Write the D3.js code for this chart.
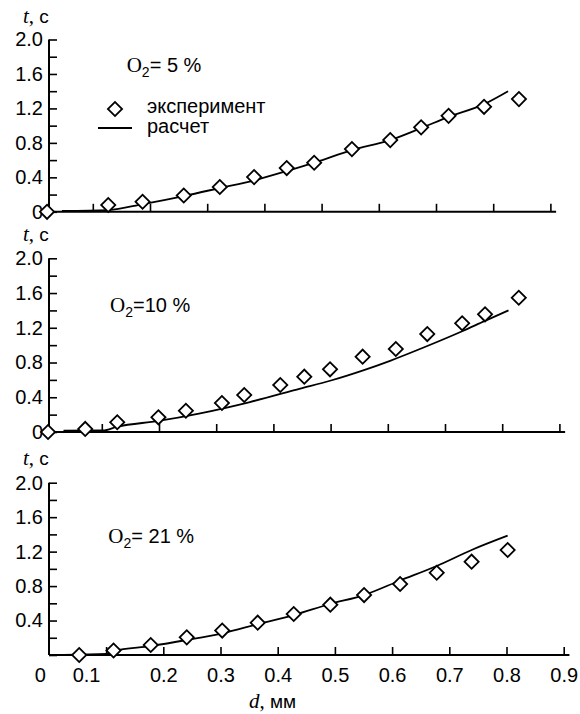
<!DOCTYPE html>
<meta charset="utf-8">
<script src="https://cdn.jsdelivr.net/npm/d3@7"></script>
<style>
body { margin: 0; background: #fff; }
.tick text { font-family: "Liberation Sans", Arial, sans-serif; font-size: 20px; fill: #000; }
.tick line { stroke: #000; stroke-width: 1.6; }
.axisline { stroke: #000; stroke-width: 2; }
.calc { fill: none; stroke: #000; stroke-width: 1.8; }
.exp { fill: #fff; stroke: #000; stroke-width: 1.8; }
.serif { font-family: "Liberation Serif", "Times New Roman", serif; }
.sans { font-family: "Liberation Sans", Arial, sans-serif; }
</style>
<body>
<script>

// tick values
var dTicks = [0.1, 0.2, 0.3, 0.4, 0.5, 0.6, 0.7, 0.8, 0.9];
var tTicks = [0, 0.2, 0.4, 0.6, 0.8, 1.0, 1.2, 1.4, 1.6, 1.8, 2.0];

// O2 = 5 %
var exp5D  = [0.020, 0.127, 0.187, 0.259, 0.322, 0.382, 0.439, 0.487, 0.553, 0.620, 0.674, 0.722, 0.784, 0.845];
var exp5T  = [0, 0.079, 0.117, 0.189, 0.288, 0.403, 0.508, 0.569, 0.728, 0.832, 0.980, 1.114, 1.219, 1.308];
var calc5D = [0.046, 0.127, 0.188, 0.259, 0.322, 0.384, 0.439, 0.490, 0.553, 0.620, 0.674, 0.721, 0.784, 0.826];
var calc5T = [0.01, 0.02, 0.09, 0.183, 0.276, 0.369, 0.473, 0.577, 0.717, 0.833, 0.972, 1.099, 1.25, 1.40];

// O2 = 10 %
var exp10D  = [0.006, 0.071, 0.127, 0.199, 0.247, 0.310, 0.349, 0.412, 0.454, 0.499, 0.556, 0.614, 0.669, 0.730, 0.770, 0.829];
var exp10T  = [0, 0.035, 0.112, 0.169, 0.245, 0.334, 0.426, 0.541, 0.637, 0.722, 0.867, 0.956, 1.128, 1.252, 1.355, 1.546];
var calc10D = [0.033, 0.102, 0.127, 0.199, 0.272, 0.359, 0.447, 0.499, 0.557, 0.604, 0.669, 0.730, 0.770, 0.811];
var calc10T = [0.015, 0.017, 0.061, 0.127, 0.215, 0.345, 0.50, 0.59, 0.71, 0.82, 0.99, 1.16, 1.28, 1.40];

// O2 = 21 %
var exp21D  = [0.053, 0.113, 0.178, 0.241, 0.303, 0.365, 0.428, 0.492, 0.551, 0.614, 0.678, 0.739, 0.802];
var exp21T  = [0, 0.052, 0.116, 0.205, 0.284, 0.375, 0.476, 0.584, 0.696, 0.824, 0.955, 1.083, 1.219];
var calc21D = [0.025, 0.101, 0.113, 0.178, 0.241, 0.303, 0.366, 0.428, 0.491, 0.551, 0.614, 0.678, 0.739, 0.802];
var calc21T = [0, 0.012, 0.046, 0.104, 0.174, 0.252, 0.360, 0.464, 0.592, 0.696, 0.865, 1.033, 1.219, 1.385];

var eqs = ["= 5 %", "=10 %", "= 21 %"];

var width = 580, height = 714;
var axisX = 49, pxPerUnit = 572, dMax = 0.91;

// layout of the three stacked panels (scanned original is slightly misregistered)
var panels = [
  {x0: 35.6, yBase: 211.8, yTop: 39.5,  titleY: 23,  noteX: 126.7, noteY: 71.5, exp: [exp5D, exp5T],   calc: [calc5D, calc5T],   zero: true,  xlab: false},
  {x0: 44.6, yBase: 432,   yTop: 258.3, titleY: 241, noteX: 110,   noteY: 312,  exp: [exp10D, exp10T], calc: [calc10D, calc10T], zero: true,  xlab: false},
  {x0: 48.9, yBase: 655,   yTop: 482.7, titleY: 465, noteX: 108.3, noteY: 543,  exp: [exp21D, exp21T], calc: [calc21D, calc21T], zero: false, xlab: true}
];

var svg = d3.select("body").append("svg")
    .attr("width", width)
    .attr("height", height);

var diamond = d3.symbol().type(d3.symbolSquare).size(100);

panels.forEach(function(p, i) {
  var x = d3.scaleLinear().domain([0, dMax]).range([p.x0, p.x0 + dMax * pxPerUnit]);
  var y = d3.scaleLinear().domain([0, 2]).range([p.yBase, p.yTop]);

  // y axis, ticks pointing inward
  svg.append("g")
    .attr("transform", "translate(" + axisX + ",0)")
    .call(d3.axisLeft(y).tickValues(tTicks).tickSizeInner(-8).tickSizeOuter(0).tickPadding(6)
      .tickFormat(function(v) {
        var k = Math.round(v * 10);
        if (k % 4 != 0) return "";
        if (k == 0) return p.zero ? "0" : "";
        return d3.format(".1f")(v);
      }))
    .call(function(g) { g.select(".domain").remove(); });

  svg.append("line").attr("class", "axisline")
    .attr("x1", axisX).attr("x2", axisX)
    .attr("y1", y(2)).attr("y2", y(0));

  // x axis
  var xg = svg.append("g")
    .attr("transform", "translate(0," + y(0) + ")")
    .call(d3.axisBottom(x).tickValues(p.xlab ? [0].concat(dTicks) : dTicks)
      .tickSizeInner(-8).tickSizeOuter(0).tickPadding(13)
      .tickFormat(function(v) { return p.xlab ? (v == 0 ? "0" : d3.format(".1f")(v)) : ""; }))
    .call(function(g) { g.select(".domain").remove(); });

  if (p.xlab) {
    xg.selectAll(".tick").filter(function(v) { return v == 0; }).select("line").remove();
    xg.selectAll(".tick text").attr("dx", function(v) { return v == 0 ? -9 : (v == 0.1 ? -20 : 0); });
  }

  svg.append("line").attr("class", "axisline")
    .attr("x1", axisX).attr("x2", x(dMax))
    .attr("y1", y(0)).attr("y2", y(0));

  // calculated curve
  var line = d3.line()
    .x(function(d) { return x(d[0]); })
    .y(function(d) { return y(d[1]); })
    .curve(d3.curveMonotoneX);

  svg.append("path")
    .datum(d3.zip(p.calc[0], p.calc[1]))
    .attr("class", "calc")
    .attr("d", line);

  // experiment points
  svg.selectAll(".exp" + i)
    .data(d3.zip(p.exp[0], p.exp[1]))
    .enter().append("path")
    .attr("class", "exp")
    .attr("d", diamond)
    .attr("transform", function(d) { return "translate(" + x(d[0]) + "," + y(d[1]) + ") rotate(45)"; });

  // y axis title
  var tt = svg.append("text").attr("x", 23).attr("y", p.titleY).style("font-size", "21px");
  tt.append("tspan").attr("class", "serif").style("font-style", "italic").text("t");
  tt.append("tspan").attr("class", "serif").text(", ");
  tt.append("tspan").attr("class", "sans").style("font-size", "19px").text("с");

  // O2 note
  var nt = svg.append("text").attr("x", p.noteX).attr("y", p.noteY);
  nt.append("tspan").attr("class", "serif").style("font-size", "21px").text("O");
  nt.append("tspan").attr("class", "sans").style("font-size", "14px").attr("dy", 5).text("2");
  nt.append("tspan").attr("class", "sans").style("font-size", "20px").attr("dy", -5).text(eqs[i]);
});

// legend in top panel
var legend = svg.append("g");
legend.append("path").attr("class", "exp").attr("d", diamond)
  .attr("transform", "translate(115,109) rotate(45)");
legend.append("text").attr("class", "sans").attr("x", 147).attr("y", 113)
  .style("font-size", "20px").text("эксперимент");
legend.append("line").attr("x1", 98).attr("x2", 132).attr("y1", 128).attr("y2", 128)
  .attr("stroke", "#000").attr("stroke-width", 1.8);
legend.append("text").attr("class", "sans").attr("x", 147).attr("y", 133)
  .style("font-size", "20px").text("расчет");

// x axis title
var xt = svg.append("text").attr("x", 249).attr("y", 708).style("font-size", "21px");
xt.append("tspan").attr("class", "serif").style("font-style", "italic").text("d");
xt.append("tspan").attr("class", "serif").text(", ");
xt.append("tspan").attr("class", "sans").style("font-size", "19px").text("мм");

</script>
</body>
</html>
